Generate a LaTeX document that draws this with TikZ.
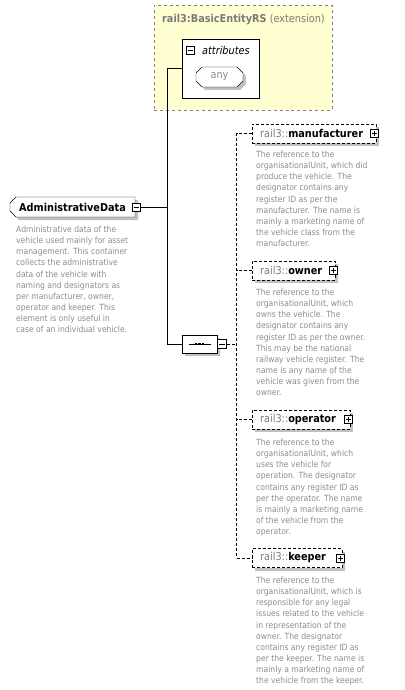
\documentclass[tikz,border=0pt]{standalone}
\usepackage{fontspec}
\setmainfont{DejaVu Sans Condensed}
\usetikzlibrary{shapes.misc,shadows}
\definecolor{txtgrey}{HTML}{8C8C8C}
\definecolor{namegrey}{HTML}{7A7A7A}
\definecolor{extfill}{HTML}{FFFFD2}
\definecolor{shadowgrey}{HTML}{C0C0C0}

\begin{document}
\begin{tikzpicture}[x=1bp,y=-1bp,
    desc/.style={anchor=north west, inner sep=0pt, align=left, text=txtgrey,
      font=\fontsize{8.5bp}{11.1bp}\selectfont},
    namefont/.style={font=\fontsize{10.8bp}{12bp}\selectfont},
    shade/.style={general shadow={fill=shadowgrey, shadow xshift=3bp, shadow yshift=-3bp}},
    elem/.style={draw, dash pattern=on 3bp off 2bp, fill=white, shade, namefont,
      minimum height=19bp, inner xsep=8bp, inner ysep=0pt, anchor=west,
      align=left, text width=#1},
    dline/.style={dash pattern=on 3bp off 2bp},
    minus/.style={draw, fill=white, minimum size=8bp, inner sep=0pt,
      path picture={\draw ([xshift=1.5bp]path picture bounding box.west)
        -- ([xshift=-1.5bp]path picture bounding box.east);}},
    plus/.style={draw, fill=white, minimum size=8bp, inner sep=0pt,
      path picture={\draw ([xshift=1.5bp]path picture bounding box.west)
        -- ([xshift=-1.5bp]path picture bounding box.east);
        \draw ([yshift=-1.5bp]path picture bounding box.north)
        -- ([yshift=1.5bp]path picture bounding box.south);}}]
  \useasboundingbox (0,0) rectangle (404,690);

  % extension base type
  \node[draw=gray, dashed, fill=extfill, minimum width=178bp, minimum height=105bp] (ext) at (243,57.5) {};
  \node[anchor=west, inner sep=0pt, text=namegrey, namefont] (extTitle) at (162,20)
    {\textbf{rail3:BasicEntityRS} (extension)};
  \node[draw, fill=white, minimum width=77bp, minimum height=59bp] (attr) at (220.5,68.5) {};
  \node[minus] (attrMinus) at (190.5,50) {};
  \node[anchor=west, inner sep=0pt, namefont] (attrText) at (202,50) {\textit{attributes}};
  \node[draw, chamfered rectangle, chamfered rectangle sep=3bp, fill=white, shade,
    minimum width=47bp, minimum height=20bp, inner sep=0pt, text=txtgrey, namefont] (any) at (219.5,77) {any\hspace{14bp}};

  % root element
  \node[draw, chamfered rectangle, chamfered rectangle corners={north west,south west},
    chamfered rectangle sep=3bp, fill=white, shade, namefont, minimum width=125bp,
    minimum height=20bp, inner sep=0pt] (adm) at (72.5,207) {\textbf{AdministrativeData}\hspace{12bp}};
  \node[minus] (admMinus) at ([xshift=1bp]adm.east) {};
  \node[desc] (admText) at (16,226) {Administrative data of the\\vehicle used mainly for asset\\management. This container\\collects the administrative\\data of the vehicle with\\naming and designators as\\per manufacturer, owner,\\operator and keeper. This\\element is only useful in\\case of an individual vehicle.};

  % sequence
  \node[draw, chamfered rectangle, chamfered rectangle sep=5bp, fill=white, shade,
    minimum width=35bp, minimum height=18bp, inner sep=0pt] (seq) at (199.5,344) {};
  \draw ([xshift=-11bp]seq.center) -- ([xshift=11bp]seq.center);
  \foreach \dx in {-3.5,0,3.5}
    \fill ([xshift=\dx bp]seq.center) +(-1.4,-1.4) rectangle +(1.4,1.4);
  \node[minus, minimum size=9bp, anchor=west] (seqMinus) at (seq.east) {};

  % child elements
  \node[elem=108bp] (manu) at (252,133.5) {{\color{namegrey}rail3::}\textbf{manufacturer}};
  \node[plus] (manuPlus) at ([xshift=-2bp]manu.east) {};
  \node[desc] (manuText) at (256,151) {The reference to the\\organisationalUnit, which did\\produce the vehicle. The\\designator contains any\\register ID as per the\\manufacturer. The name is\\mainly a marketing name of\\the vehicle class from the\\manufacturer.};

  \node[elem=67bp] (own) at (252,270.5) {{\color{namegrey}rail3::}\textbf{owner}};
  \node[plus] (ownPlus) at ([xshift=-2bp]own.east) {};
  \node[desc] (ownText) at (256,289) {The reference to the\\organisationalUnit, which\\owns the vehicle. The\\designator contains any\\register ID as per the owner.\\This may be the national\\railway vehicle register. The\\name is any name of the\\vehicle was given from the\\owner.};

  \node[elem=82bp] (oper) at (252,419.5) {{\color{namegrey}rail3::}\textbf{operator}};
  \node[plus] (operPlus) at ([xshift=-2bp]oper.east) {};
  \node[desc] (operText) at (256,439) {The reference to the\\organisationalUnit, which\\uses the vehicle for\\operation. The designator\\contains any register ID as\\per the operator. The name\\is mainly a marketing name\\of the vehicle from the\\operator.};

  \node[elem=74bp] (keep) at (252,558) {{\color{namegrey}rail3::}\textbf{keeper}};
  \node[plus] (keepPlus) at ([xshift=-2bp]keep.east) {};
  \node[desc] (keepText) at (256,577) {The reference to the\\organisationalUnit, which is\\responsible for any legal\\issues related to the vehicle\\in representation of the\\owner. The designator\\contains any register ID as\\per the keeper. The name is\\mainly a marketing name of\\the vehicle from the keeper.};

  % connectors
  \draw (attr.west) -- ++(-15,0) coordinate (spine) -- (spine |- seq.west) -- (seq.west);
  \draw (admMinus.east) -- (admMinus.east -| spine);
  \draw[dline] (seqMinus.east) -- ++(10,0) coordinate (branch);
  \draw[dline] (manu.west) -- (manu.west -| branch) -- (keep.west -| branch) -- (keep.west);
  \draw[dline] (own.west) -- (own.west -| branch);
  \draw[dline] (oper.west) -- (oper.west -| branch);
\end{tikzpicture}
\end{document}
